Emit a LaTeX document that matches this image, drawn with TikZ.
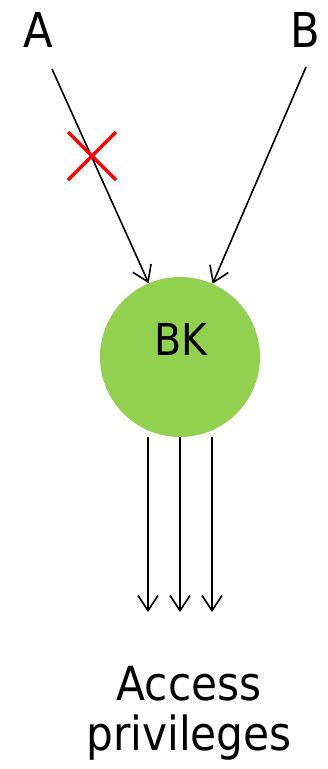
\documentclass[tikz,border=0pt]{standalone}
\usepackage{fontspec}
\setmainfont{DejaVu Sans Condensed}
\usetikzlibrary{arrows.meta,calc}
\definecolor{bkgreen}{HTML}{92D050}
\begin{document}
\begin{tikzpicture}[x=1pt,y=-1pt,
  lbl/.style={font=\fontsize{48}{50}\selectfont, inner sep=0pt, anchor=base},
  conn/.style={line width=1.6pt, -{Straight Barb[length=15pt,width=20pt,line width=1.6pt]}},
  cross/.style={red, line width=3.5pt}]
\useasboundingbox (0,0) rectangle (327,769);
\node[lbl] (a) at (38,47) {A};
\node[lbl] (b) at (305,47) {B};
\node[circle, fill=bkgreen, minimum size=160pt, inner sep=0pt] (bk) at (180,357) {};
\node[lbl, font=\fontsize{44}{50}\selectfont] (bklabel) at (181,355) {BK};
\node[lbl, font=\fontsize{47}{50}\selectfont, align=center] (acc) at (189,750) {Access\\privileges};
\coordinate (as) at (52,69);
\coordinate (bs) at (306,67);
\draw[conn] (as) -- (bk.113.4);
\draw[conn] (bs) -- (bk.66.6);
\coordinate (xc) at (92,156);
\draw[cross] ($(xc)+(-24,-24)$) -- ($(xc)+(24,24)$);
\draw[cross] ($(xc)+(-24,24)$) -- ($(xc)+(24,-24)$);
\foreach \x/\n in {148/l,180/m,212/r}{
  \coordinate (s\n) at (\x,437);
  \coordinate (e\n) at (\x,612);
  \draw[conn] (s\n) -- (e\n);
}
\end{tikzpicture}
\end{document}
